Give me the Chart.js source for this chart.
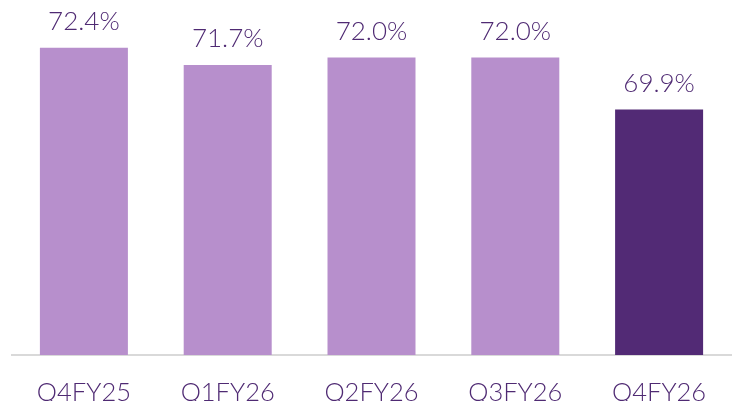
<!DOCTYPE html>
<html>
<head>
<meta charset="utf-8">
<script src="https://cdn.jsdelivr.net/npm/chart.js@4/dist/chart.umd.min.js"></script>
<style>
  html, body { margin: 0; padding: 0; background: #fff; }
  #wrap { width: 738px; height: 401px; }
</style>
</head>
<body>
<div id="wrap"><canvas id="marginChart"></canvas></div>
<script>
var quarters = ["Q4FY25", "Q1FY26", "Q2FY26", "Q3FY26", "Q4FY26"];
var marginValues = [72.4, 71.7, 72.0, 72.0, 69.9];
var barColors = ["#b78fcc", "#b78fcc", "#b78fcc", "#b78fcc", "#522a75"];
var textColor = "#4f2a73";

// value labels above each bar
var valueLabels = {
  id: "valueLabels",
  afterDatasetsDraw: function(chart) {
    var ctx = chart.ctx;
    var meta = chart.getDatasetMeta(0);
    ctx.save();
    ctx.fillStyle = textColor;
    ctx.font = "300 26px Lato";
    ctx.textAlign = "center";
    ctx.textBaseline = "alphabetic";
    meta.data.forEach(function(bar, i) {
      ctx.fillText(marginValues[i].toFixed(1) + "%", bar.x, bar.y - 18);
    });
    ctx.restore();
  }
};

new Chart("marginChart", {
  type: "bar",
  data: {
    labels: quarters,
    datasets: [{
      data: marginValues,
      backgroundColor: barColors,
      barPercentage: 0.612,
      categoryPercentage: 1
    }]
  },
  options: {
    responsive: true,
    maintainAspectRatio: false,
    animation: false,
    layout: { padding: { left: 12, right: 7, top: 8, bottom: 0 } },
    plugins: {
      legend: { display: false },
      tooltip: { enabled: false }
    },
    scales: {
      x: {
        grid: { display: false },
        border: { display: true, color: "#d9d9d9", width: 2 },
        ticks: {
          color: textColor,
          font: { family: "Lato", size: 25.5, weight: 300 },
          padding: 14
        },
        afterFit: function(scale) {
          scale.height = 46;
        }
      },
      y: {
        display: false,
        min: 60,
        max: 74
      }
    }
  },
  plugins: [valueLabels]
});
</script>
</body>
</html>
